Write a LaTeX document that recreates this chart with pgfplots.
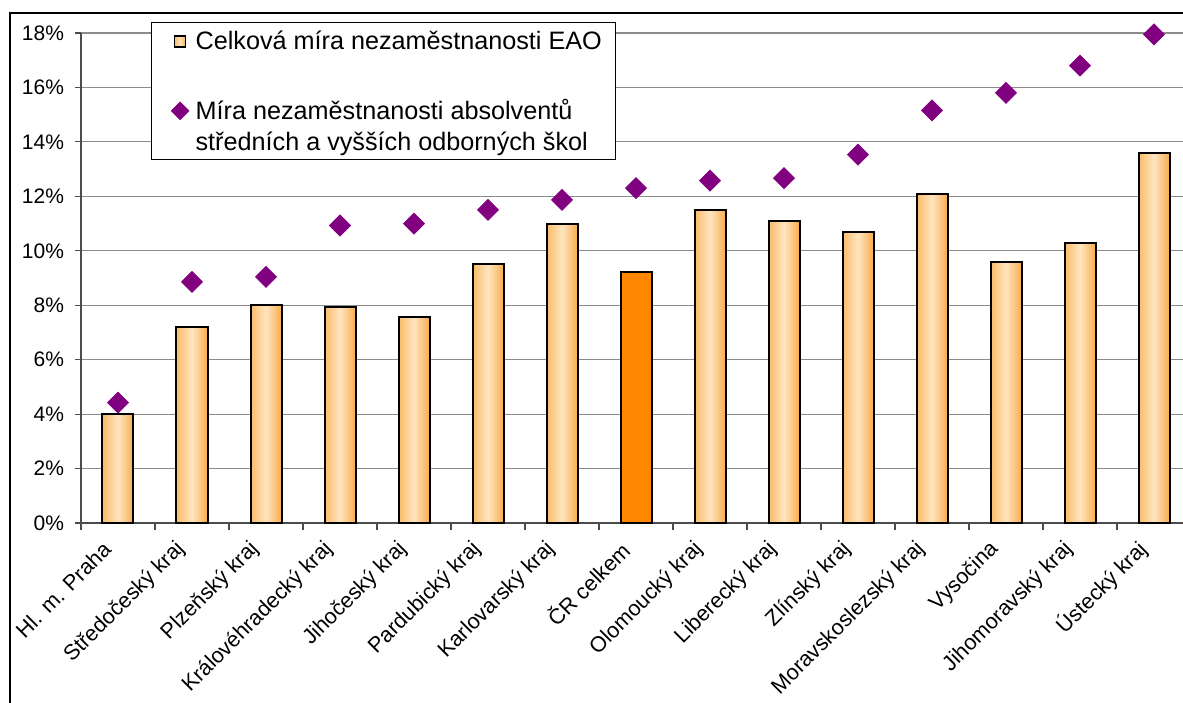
\documentclass[border=0pt]{standalone}
\usepackage{pgfplots}
\pgfplotsset{compat=1.18}
\usepackage{fontspec}
\setmainfont{Liberation Sans}
\definecolor{barEdgeL}{RGB}{250,188,105}
\definecolor{barEdgeR}{RGB}{248,172,78}
\definecolor{barMid}{RGB}{255,229,192}
\definecolor{crBar}{RGB}{255,136,0}
\definecolor{diam}{RGB}{128,0,128}
\definecolor{gridc}{RGB}{140,140,140}
\pgfplotsset{
  obar/.style={ybar, bar width=15.5pt, bar shift=0pt, draw=black, line width=1pt,
     left color=barEdgeL, right color=barEdgeR, middle color=barMid, forget plot},
  barleg/.style={legend image code/.code={\path[draw=none,fill=none] (0pt,0pt) -- (15pt,0pt);\draw[draw=black,line width=0.6pt,left color=barEdgeL, right color=barEdgeR, middle color=barMid] (6.5pt,-2.75pt) rectangle (12pt,2.75pt);}},
  diamleg/.style={legend image code/.code={\path[draw=none,fill=none] (0pt,0pt) -- (15pt,0pt);\draw[##1, mark size=3pt] plot coordinates {(9.25pt,7pt)};}},
}
\begin{document}
\begin{tikzpicture}
\useasboundingbox (0,0) rectangle (591.5pt,-351pt);
\begin{axis}[
 at={(40.5pt,-261.5pt)}, anchor=south west,
 scale only axis, width=555pt, height=245pt,
 xmin=-0.5, xmax=14.5, ymin=0, ymax=18,
 axis lines*=left,
 axis line style={draw=black!70, line width=0.6pt},
 ytick={0,2,...,18},
 yticklabels={0\%,2\%,4\%,6\%,8\%,10\%,12\%,14\%,16\%,18\%},
 ymajorgrids, grid style={gridc, line width=0.6pt},
 xtick={0,...,14},
 xticklabels={Hl. m. Praha,Středočeský kraj,Plzeňský kraj,Královéhradecký kraj,Jihočeský kraj,Pardubický kraj,Karlovarský kraj,ČR celkem,Olomoucký kraj,Liberecký kraj,Zlínský kraj,Moravskoslezský kraj,Vysočina,Jihomoravský kraj,Ústecký kraj},
 minor xtick={-0.5,0.5,...,14.5},
 tick align=outside,
 major tick length=3pt, minor tick length=3.5pt,
 tick style={black!70, line width=0.6pt},
 major x tick style={draw=none},
 xticklabel style={xshift=-3pt, yshift=-6pt, rotate=45, anchor=east, font=\fontsize{10.8}{12}\selectfont},
 yticklabel style={font=\fontsize{10.5}{12}\selectfont, xshift=-2pt},
 legend style={at={(0.0631,1.0224)}, anchor=north west, draw=black, line width=0.6pt,
   font=\fontsize{12.6}{15.5}\selectfont, row sep=19pt, inner xsep=5pt, inner ysep=2pt,
   cells={anchor=west}},
 legend cell align=left,
]
% legend carrier for the bar series (Hl. m. Praha)
\addplot[obar, barleg, forget plot=false] coordinates {(0,4.0)};
\addlegendentry{Celková míra nezaměstnanosti EAO}
\addplot[obar] coordinates {(1,7.2)};
\addplot[obar] coordinates {(2,8.0)};
\addplot[obar] coordinates {(3,7.93)};
\addplot[obar] coordinates {(4,7.55)};
\addplot[obar] coordinates {(5,9.5)};
\addplot[obar] coordinates {(6,11.0)};
\addplot[obar] coordinates {(8,11.5)};
\addplot[obar] coordinates {(9,11.08)};
\addplot[obar] coordinates {(10,10.7)};
\addplot[obar] coordinates {(11,12.08)};
\addplot[obar] coordinates {(12,9.57)};
\addplot[obar] coordinates {(13,10.29)};
\addplot[obar] coordinates {(14,13.58)};
\addplot[ybar, bar width=15.5pt, bar shift=0pt, draw=black, line width=1pt, fill=crBar, forget plot]
 coordinates {(7,9.22)};
\addplot[only marks, mark=square*, mark size=3.7pt, color=diam, mark options={rotate=45, fill=diam, draw=diam}, diamleg]
 coordinates {(0,4.42) (1,8.86) (2,9.04) (3,10.93) (4,11.0) (5,11.5) (6,11.87) (7,12.3) (8,12.58) (9,12.67) (10,13.53) (11,15.16) (12,15.8) (13,16.8) (14,17.95)};
\addlegendentry{\begin{tabular}{@{}l@{}}Míra nezaměstnanosti absolventů\\středních a vyšších odborných škol\rule[-18pt]{0pt}{18pt}\end{tabular}}
\end{axis}
\draw[line width=0.6pt] (5pt,-400pt) -- (5pt,-6.5pt) -- (700pt,-6.5pt);
\end{tikzpicture}
\end{document}
